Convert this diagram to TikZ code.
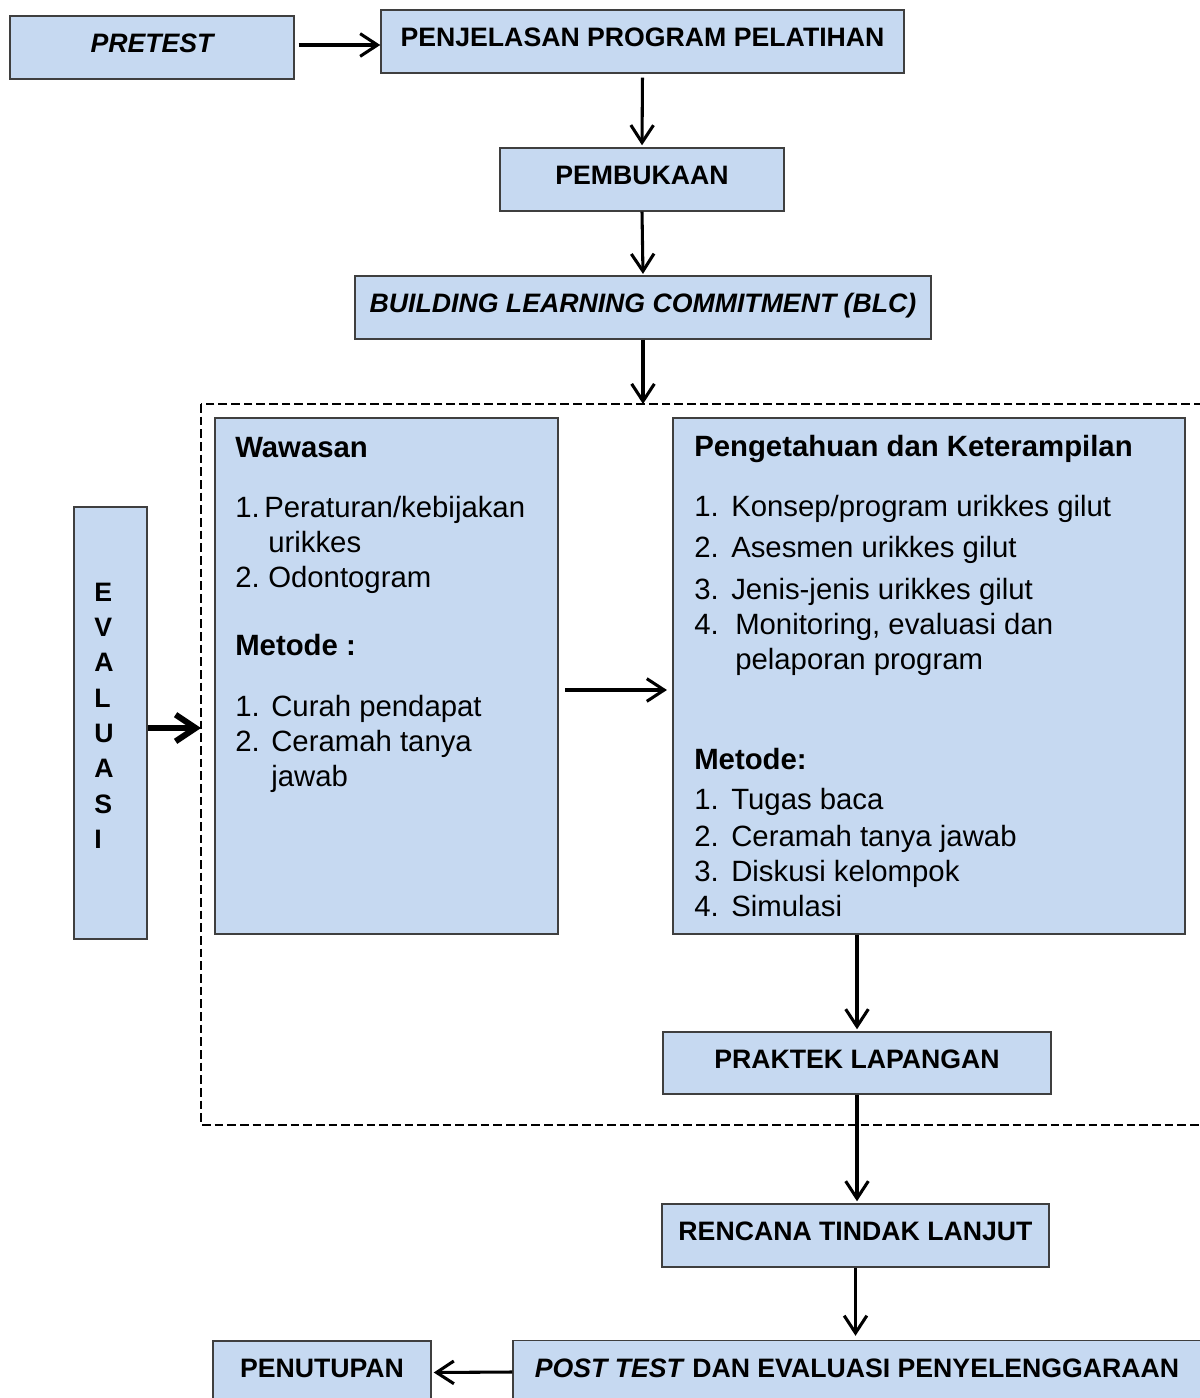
\documentclass[tikz,border=0pt]{standalone}
\usepackage{fontspec}
\setmainfont{Liberation Sans}
\usetikzlibrary{arrows.meta,positioning}
\definecolor{planInk}{HTML}{000000}
\definecolor{planFill}{HTML}{C6D9F1}
\definecolor{planEdge}{HTML}{3F3F3F}
\newcommand{\planNo}[2]{\makebox[#1][l]{#2}}
\tikzset{
  every picture/.style={font=\fontsize{20}{24}\selectfont, text=planInk},
  plan box/.style={draw=planEdge, line width=1.1pt, fill=planFill, inner sep=0pt},
  plan title/.style={plan box, font=\fontsize{20}{24}\selectfont\bfseries,
    text height=14pt, text depth=6pt, minimum height=47.25pt},
  plan list/.style={font=\fontsize{22}{26.25}\selectfont, align=left,
    inner sep=0pt, anchor=base west},
  plan arrow/.style={-{Straight Barb[length=13pt,width=17pt]},
    draw=planInk, line width=2.3pt},
  plan thick arrow/.style={-{Straight Barb[length=15pt,width=20pt]},
    draw=planInk, line width=4.5pt},
  plan frame/.style={draw=planInk, line width=2.2pt, dash pattern=on 6.5pt off 3pt}
}
\begin{document}
\begin{tikzpicture}[x=0.75pt,y=-0.75pt]
  \useasboundingbox (0,0) rectangle (1199,1398);
  % dashed frame round the core sessions
  \draw[plan frame] (201,404) rectangle (1203,1125);
  \coordinate (frameTop) at (643,404);
  \coordinate (frameLeft) at (201,728);
  \coordinate (midRow) at (0,690);
  \coordinate (topRow) at (0,45);

  \node[plan title, minimum width=213pt] (pretest) at (152,47.5) {\itshape PRETEST};
  \node[plan title, minimum width=392.25pt] (penjelasan) at (642.5,41.5) {PENJELASAN PROGRAM PELATIHAN};
  \node[plan title, minimum width=213pt] (pembukaan) at (642,179.5) {PEMBUKAAN};
  \node[plan title, minimum width=432pt] (blc) at (643,307.5) {\itshape BUILDING LEARNING COMMITMENT (BLC)};

  \node[plan box, minimum width=257.25pt, minimum height=387pt] (wawasan) at (386.5,676) {};
  \node[plan box, minimum width=384pt, minimum height=387pt] (pengetahuan) at (929,676) {};
  \node[plan box, minimum width=54.75pt, minimum height=324pt] (evaluasi) at (110.5,723) {};

  % multi-line texts sit on the baseline of their last line
  \node[plan list] (wawasanText) at (235,786) {\textbf{Wawasan}\\[18.75pt]
    \planNo{21.75pt}{1.}Peraturan/kebijakan\\
    \hspace*{24.75pt}urikkes\\
    \planNo{24.75pt}{2.}Odontogram\\[24.75pt]
    \textbf{Metode :}\\[19.5pt]
    \planNo{27pt}{1.}Curah pendapat\\
    \planNo{27pt}{2.}Ceramah tanya\\
    \hspace*{27pt}jawab};
  \node[plan list] (pengetahuanText) at (694,916) {\textbf{Pengetahuan dan Keterampilan}\\[18.75pt]
    \planNo{27.75pt}{1.}Konsep/program urikkes gilut\\[4.5pt]
    \planNo{27.75pt}{2.}Asesmen urikkes gilut\\[5.25pt]
    \planNo{27.75pt}{3.}Jenis-jenis urikkes gilut\\
    \planNo{30.75pt}{4.}Monitoring, evaluasi dan\\
    \hspace*{30.75pt}pelaporan program\\[48.75pt]
    \textbf{Metode:}\\[3.75pt]
    \planNo{27.75pt}{1.}Tugas baca\\[1.5pt]
    \planNo{27.75pt}{2.}Ceramah tanya jawab\\
    \planNo{27.75pt}{3.}Diskusi kelompok\\
    \planNo{27.75pt}{4.}Simulasi};
  \node[plan list, font=\fontsize{20}{26.5}\selectfont\bfseries] (evaluasiText) at (94,848.5)
    {E\\V\\A\\L\\U\\A\\S\\I};

  \node[plan title, minimum width=291pt, minimum height=46.5pt] (praktek) at (857,1063) {PRAKTEK LAPANGAN};
  \node[plan title, minimum width=290.25pt] (rencana) at (855.5,1235.5) {RENCANA TINDAK LANJUT};
  \node[plan title, minimum width=516pt] (posttest) at (857,1372) {\textit{POST TEST} DAN EVALUASI PENYELENGGARAAN};
  \node[plan title, minimum width=163.5pt] (penutupan) at (322,1372.5) {PENUTUPAN};

  \draw[plan arrow, shorten <=3pt] (pretest.east |- topRow) -- (penjelasan.west |- topRow);
  \draw[plan arrow, shorten <=3pt, shorten >=1.5pt] (penjelasan.south) -- (pembukaan.north);
  \draw[plan arrow, shorten >=1pt] (pembukaan.south) -- (blc.north);
  \draw[plan arrow] (blc.south) -- (frameTop);
  \draw[plan arrow, shorten <=5pt, shorten >=4pt] (wawasan.east |- midRow) -- (pengetahuan.west |- midRow);
  \draw[plan thick arrow] (evaluasi.east |- frameLeft) -- (frameLeft);
  \draw[plan arrow, shorten >=1.5pt] (pengetahuan.south -| praktek.north) -- (praktek.north);
  \draw[plan arrow, shorten >=1.5pt] (praktek.south) -- (praktek.south |- rencana.north);
  \draw[plan arrow, shorten >=3pt] (rencana.south) -- (rencana.south |- posttest.north);
  \draw[plan arrow, shorten >=1.5pt] (posttest.west) -- (penutupan.east);
\end{tikzpicture}
\end{document}
